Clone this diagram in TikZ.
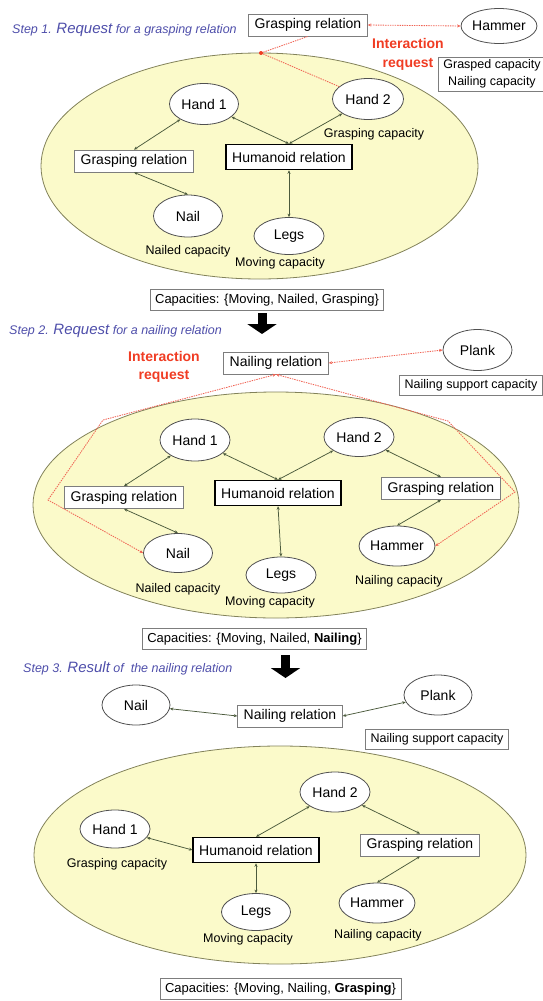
\documentclass[tikz,border=0pt]{standalone}
\usepackage{fontspec}
\setmainfont{Liberation Sans}
\usetikzlibrary{shapes.geometric,arrows.meta}
\definecolor{worldfill}{RGB}{251,250,202}
\definecolor{worldline}{RGB}{130,130,90}
\definecolor{entline}{RGB}{80,80,80}
\definecolor{boxline}{RGB}{125,125,125}
\definecolor{connc}{RGB}{75,90,60}
\definecolor{reqred}{RGB}{240,60,35}
\definecolor{reqline}{RGB}{240,100,85}
\definecolor{titleblue}{RGB}{78,78,170}
\newcommand\ftxt{\fontsize{14}{16}\selectfont}
\newcommand\flab{\fontsize{12.5}{17}\selectfont}
\newcommand\fcap{\fontsize{13}{15}\selectfont}
\begin{document}
\begin{tikzpicture}[x=1pt,y=-1pt,
  world/.style={ellipse, draw=worldline, fill=worldfill, line width=0.8pt, inner sep=0pt},
  ent/.style={ellipse, draw=entline, fill=white, line width=0.8pt, minimum width=69pt, minimum height=40pt, inner sep=0pt, font=\ftxt},
  rel/.style={draw=boxline, fill=white, line width=0.8pt, minimum height=22pt, inner xsep=6pt, inner ysep=0pt, font=\ftxt},
  hum/.style={rel, draw=black, line width=1.5pt, minimum height=25pt},
  lab/.style={inner sep=0pt, font=\flab},
  capbox/.style={draw=boxline, fill=white, line width=0.8pt, minimum height=21pt, inner xsep=5pt, inner ysep=0pt, font=\fcap},
  conn/.style={draw=connc, line width=0.75pt, {Stealth[length=3.5pt,width=3pt]}-{Stealth[length=3.5pt,width=3pt]}},
  req/.style={draw=reqline, line width=0.85pt, dash pattern=on 1.4pt off 1pt, {Stealth[length=3.5pt,width=3pt]}-{Stealth[length=3.5pt,width=3pt]}},
  reqtxt/.style={text=reqred, font=\bfseries\fontsize{14}{18.5}\selectfont, align=center, inner sep=0pt},
  ttl/.style={anchor=west, inner sep=0pt, text=titleblue, font=\itshape\fontsize{12.5}{15}\selectfont},
  bigarrow/.style={draw=black, line width=9pt, -{Triangle[width=29pt,length=10pt]}}
]
\useasboundingbox (0,0) rectangle (543,1001);

% ---------------- Step 1 ----------------
\node[ttl] (t1) at (12,30) {Step 1. {\fontsize{15}{15}\selectfont Request} for a grasping relation};
\node[world, minimum width=437pt, minimum height=226pt] (w1) at (259.5,166) {};
\node[rel] (tgr1) at (308,25) {Grasping relation};
\node[ent, minimum width=68pt, minimum height=35pt] (ham1) at (499,26) {Hammer};
\node[reqtxt] (ir1) at (408,54.5) {Interaction\\request};
\node[capbox, align=center, font=\flab, minimum height=34pt] (gc1) at (492,74) {Grasped capacity\\Nailing capacity};
\node[ent, minimum height=41pt] (h1a) at (204,104) {Hand 1};
\node[ent, minimum width=71pt, minimum height=41pt] (h2a) at (368,99) {Hand 2};
\node[lab] (l2a) at (374,134) {Grasping capacity};
\node[rel] (gr1) at (134,161) {Grasping relation};
\node[hum] (hum1) at (289,157) {Humanoid relation};
\node[ent, minimum height=42pt] (nail1) at (188,216) {Nail};
\node[lab] (lnail1) at (188,251) {Nailed capacity};
\node[ent, minimum width=70pt, minimum height=37pt] (legs1) at (289,236) {Legs};
\node[lab] (llegs1) at (280,263) {Moving capacity};
\node[capbox] (cap1) at (267,300) {Capacities: \{Moving, Nailed, Grasping\}};
\coordinate (dot1) at (261,53);

\draw[conn] (h1a) -- (gr1.north);
\draw[conn] (h1a) -- (hum1.north);
\draw[conn] (h2a) -- (hum1.north);
\draw[conn] (gr1.south) -- (nail1.north);
\draw[conn] (hum1.south) -- (legs1.north);

\draw[req] (ham1.west) -- (tgr1.east);
\draw[req, {-}] (dot1) -- (tgr1.south);
\draw[req, {-}] (dot1) -- (h2a);
\fill[reqred] (dot1) circle (2pt);

\coordinate (a1s) at (262,313);
\coordinate (a1e) at (262,334);
\draw[bigarrow] (a1s) -- (a1e);

% ---------------- Step 2 ----------------
\node[ttl] (t2) at (9,331) {Step 2. {\fontsize{15}{15}\selectfont Request} for a nailing relation};
\node[world, minimum width=486pt, minimum height=226pt] (w2) at (276,505) {};
\node[reqtxt] (ir2) at (164,367) {Interaction\\request};
\node[rel] (nr2) at (276,363) {Nailing relation};
\node[ent, minimum height=41pt] (plank2) at (477.5,350) {Plank};
\node[capbox, font=\flab, minimum height=20pt] (ns2) at (471,385) {Nailing support capacity};
\node[ent, minimum width=70pt, minimum height=42pt] (h1b) at (195,440) {Hand 1};
\node[ent, minimum width=70pt, minimum height=39pt] (h2b) at (359,437) {Hand 2};
\node[rel] (gr2L) at (124,497.5) {Grasping relation};
\node[hum] (hum2) at (278,493) {Humanoid relation};
\node[rel] (gr2R) at (441,488.5) {Grasping relation};
\node[ent, minimum height=39pt] (nail2) at (178,553) {Nail};
\node[lab] (lnail2) at (178,589) {Nailed capacity};
\node[ent, minimum width=70pt, minimum height=36pt] (legs2) at (281,575) {Legs};
\node[lab] (llegs2) at (270,602) {Moving capacity};
\node[ent, minimum width=70pt, minimum height=40pt] (ham2) at (397,546) {Hammer};
\node[lab] (lham2) at (399,581) {Nailing capacity};
\node[capbox] (cap2) at (254.5,639) {Capacities: \{Moving, Nailed, \textbf{Nailing}\}};

\draw[conn] (h1b) -- (gr2L.north);
\draw[conn] (h1b) -- (hum2.north);
\draw[conn] (h2b) -- (hum2.north);
\draw[conn] (h2b) -- (gr2R.north);
\draw[conn] (gr2L.south) -- (nail2.north);
\draw[conn] (hum2.south) -- (legs2.north);
\draw[conn] (gr2R.south) -- (ham2.north);

\coordinate (cL1) at (103,420);
\coordinate (cL2) at (48,500);
\coordinate (cR1) at (448,421);
\coordinate (cR2) at (515,492);
\draw[req] (plank2.west) -- (nr2.east);
\draw[req] (nr2.south) -- (cL1) -- (cL2) -- (nail2.west);
\draw[req] (nr2.south) -- (cR1) -- (cR2) -- (ham2.east);

\coordinate (a2s) at (285.5,655);
\coordinate (a2e) at (285.5,678);
\draw[bigarrow] (a2s) -- (a2e);

% ---------------- Step 3 ----------------
\node[ttl] (t3) at (23,668) {Step 3. {\fontsize{15}{15}\selectfont Result} of \ the nailing relation};
\node[ent, minimum width=68pt] (nail3) at (136,705) {Nail};
\node[rel] (nr3) at (290,716) {Nailing relation};
\node[ent, minimum width=68pt] (plank3) at (438,695) {Plank};
\node[capbox, font=\flab, minimum height=20pt] (ns3) at (437,739) {Nailing support capacity};
\draw[conn] (nail3) -- (nr3.west);
\draw[conn] (nr3.east) -- (plank3);

\node[world, minimum width=492pt, minimum height=218pt] (w3) at (280,855) {};
\node[ent, minimum width=70pt] (h2c) at (335,792) {Hand 2};
\node[ent, minimum width=70pt, minimum height=38pt] (h1c) at (115,829) {Hand 1};
\node[lab] (lh1c) at (117,864) {Grasping capacity};
\node[hum] (hum3) at (256,850) {Humanoid relation};
\node[rel] (gr3) at (420,845) {Grasping relation};
\node[ent, minimum height=37pt] (legs3) at (256,912) {Legs};
\node[lab] (llegs3) at (248,939) {Moving capacity};
\node[ent, minimum width=68pt] (ham3) at (377,903) {Hammer};
\node[lab] (lham3) at (378,935) {Nailing capacity};
\node[capbox] (cap3) at (280.5,989) {Capacities: \{Moving, Nailing, \textbf{Grasping}\}};

\draw[conn] (h1c) -- (hum3.west);
\draw[conn] (h2c) -- (hum3.north);
\draw[conn] (h2c) -- (gr3.north);
\draw[conn] (hum3.south) -- (legs3.north);
\draw[conn] (gr3.south) -- (ham3.north);
\end{tikzpicture}
\end{document}
